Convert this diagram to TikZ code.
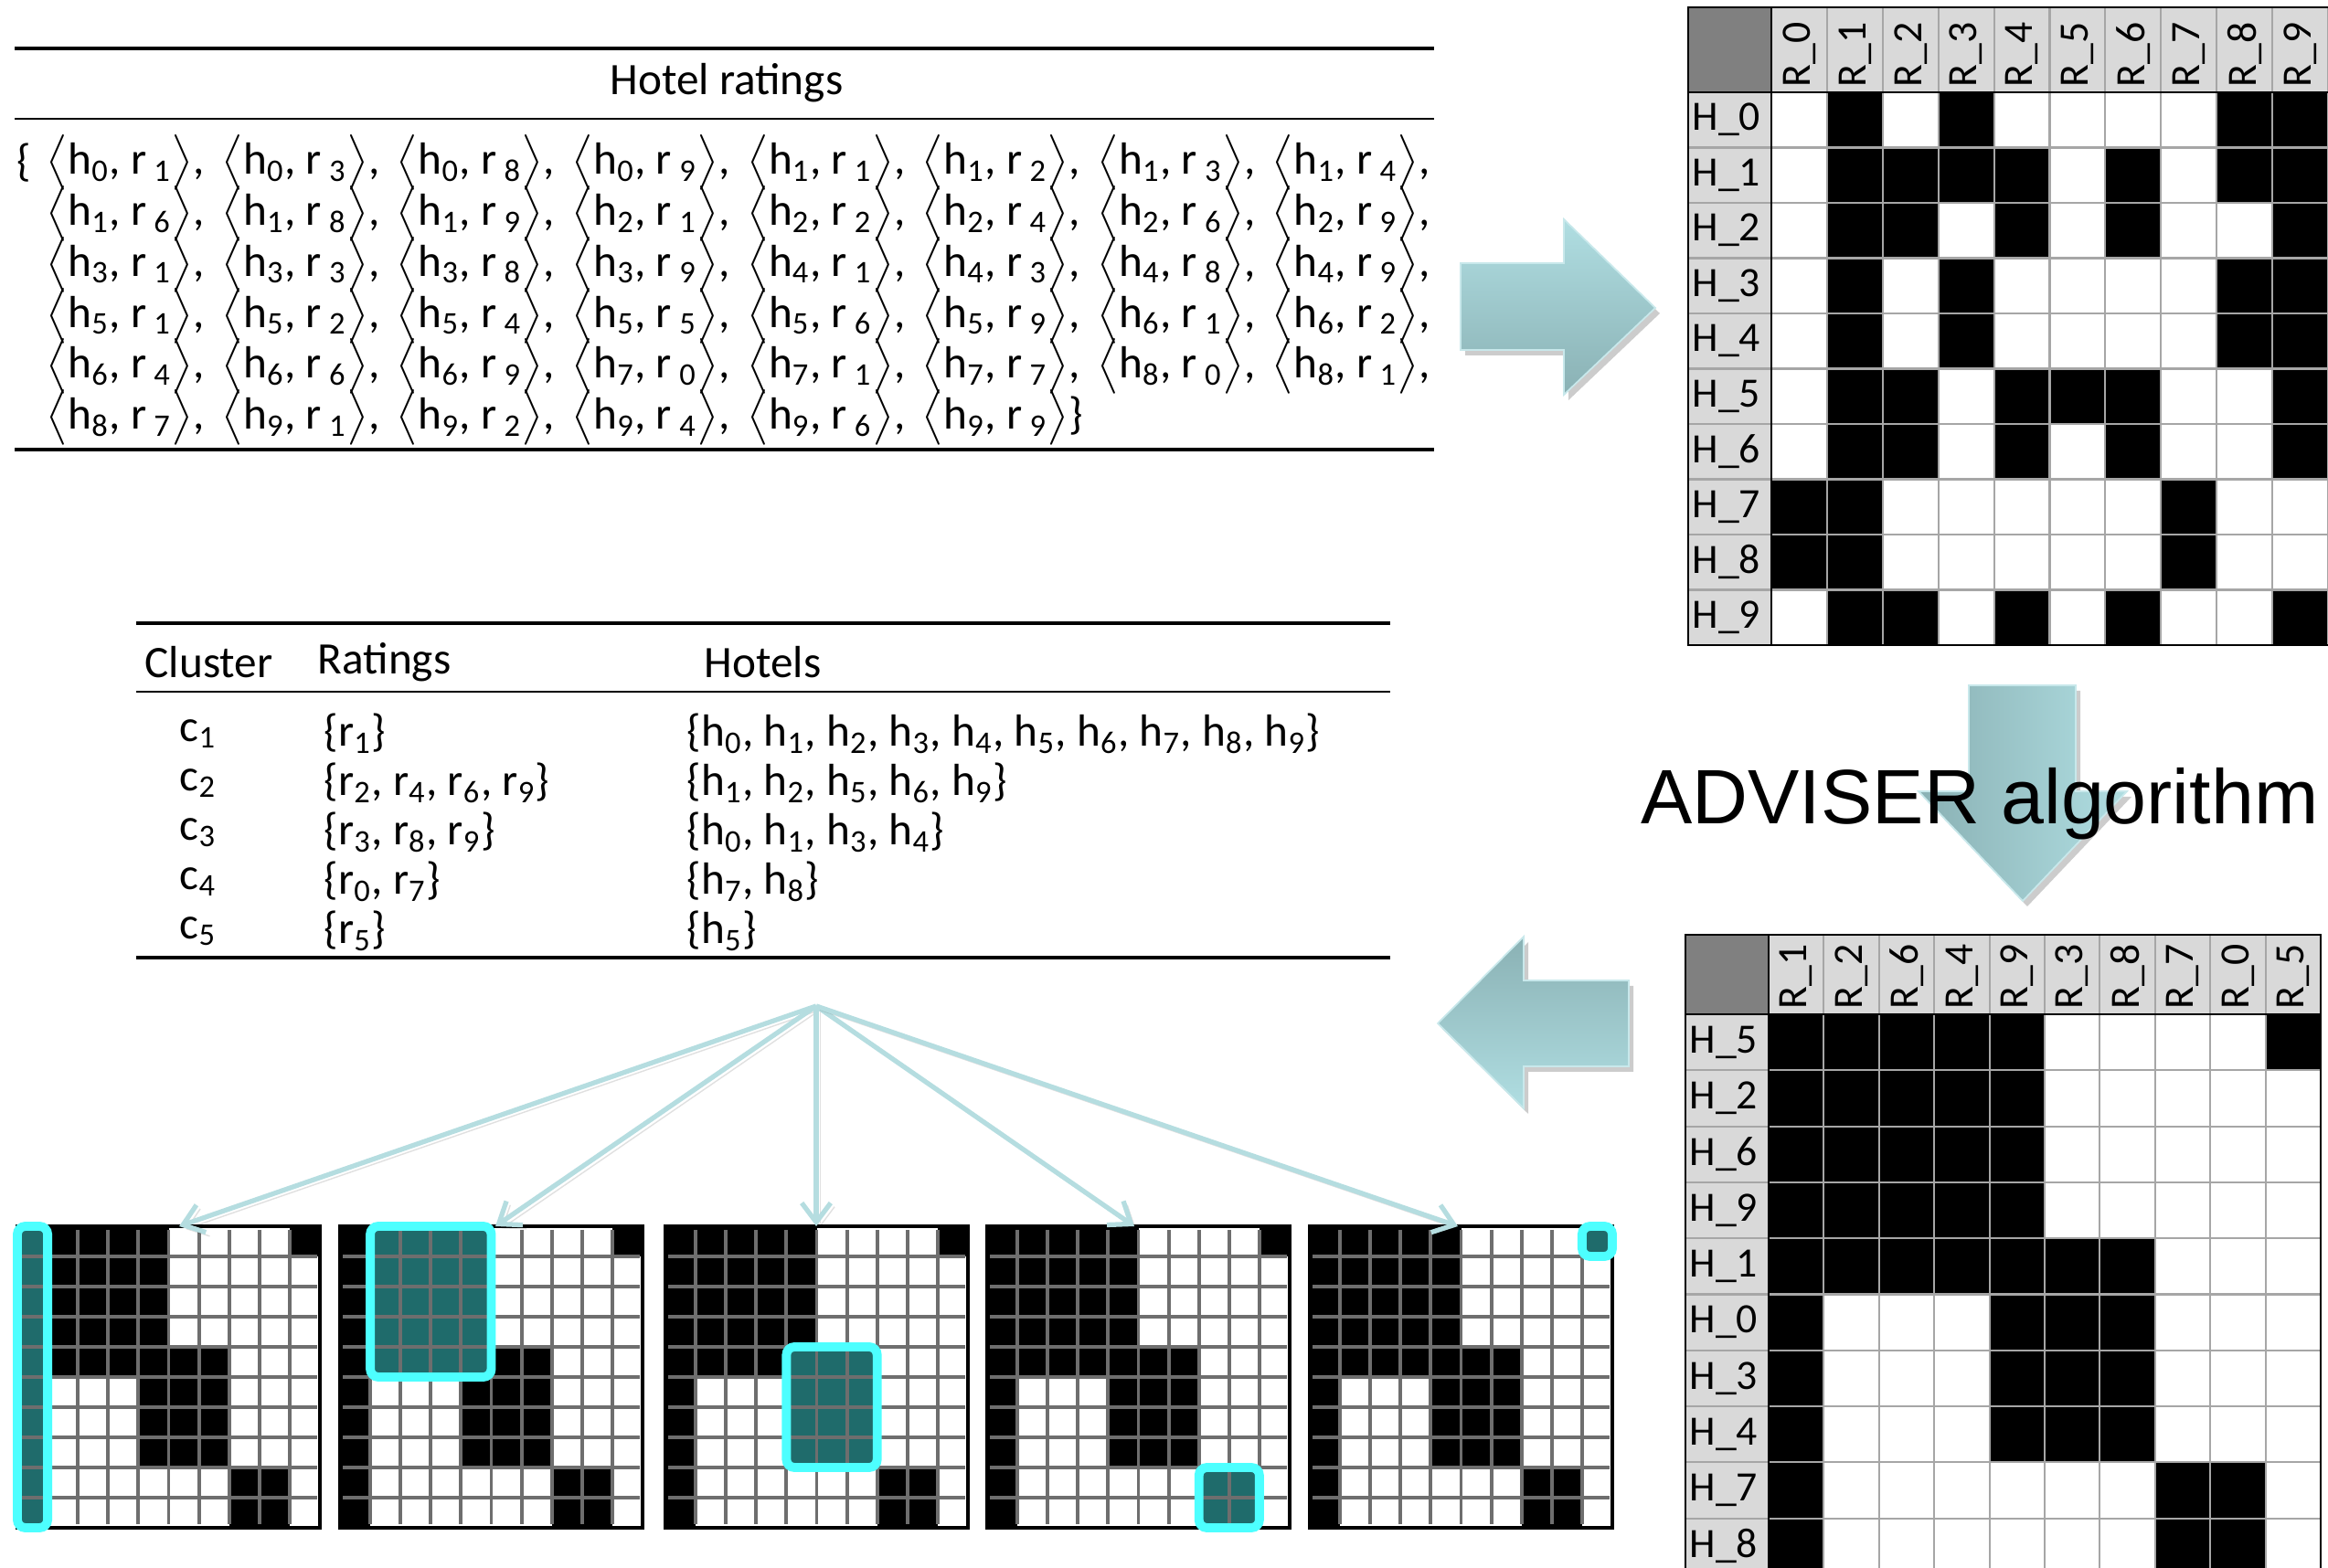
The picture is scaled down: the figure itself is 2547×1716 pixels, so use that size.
\documentclass[tikz,border=0pt]{standalone}
\usepackage{amsmath}
\usepackage{fontspec}
\setmainfont{Carlito}
\newfontfamily\arialfont{Liberation Sans}
\usetikzlibrary{arrows.meta}

\definecolor{hdrgray}{HTML}{808080}
\definecolor{lblgray}{HTML}{D9D9D9}
\definecolor{gridgray}{HTML}{A6A6A6}
\definecolor{smallgray}{HTML}{6E6E6E}
\definecolor{clustteal}{HTML}{1F6B6B}
\definecolor{clustcyan}{HTML}{4DFFFF}
\definecolor{fanblue}{HTML}{B5DDE0}
\definecolor{arrlight}{HTML}{B0DEE2}
\definecolor{arrdark}{HTML}{8AB1B4}

\newcommand{\hrpair}[2]{$\big\langle$h\textsubscript{#1}, r\,\textsubscript{#2}$\big\rangle$}

% hotel x rating matrices (rows = hotels)
\def\origmat{{0,1,0,1,0,0,0,0,1,1},{0,1,1,1,1,0,1,0,1,1},{0,1,1,0,1,0,1,0,0,1},{0,1,0,1,0,0,0,0,1,1},{0,1,0,1,0,0,0,0,1,1},{0,1,1,0,1,1,1,0,0,1},{0,1,1,0,1,0,1,0,0,1},{1,1,0,0,0,0,0,1,0,0},{1,1,0,0,0,0,0,1,0,0},{0,1,1,0,1,0,1,0,0,1}}
\def\reordmat{{1,1,1,1,1,0,0,0,0,1},{1,1,1,1,1,0,0,0,0,0},{1,1,1,1,1,0,0,0,0,0},{1,1,1,1,1,0,0,0,0,0},{1,1,1,1,1,1,1,0,0,0},{1,0,0,0,1,1,1,0,0,0},{1,0,0,0,1,1,1,0,0,0},{1,0,0,0,1,1,1,0,0,0},{1,0,0,0,0,0,0,1,1,0},{1,0,0,0,0,0,0,1,1,0}}

\tikzset{
  tabtext/.style={font=\fontsize{14}{16}\selectfont, inner sep=0pt, anchor=west},
  lbltext/.style={font=\fontsize{13}{15}\selectfont, inner sep=0pt, anchor=west},
  thickrule/.style={line width=1.15pt},
  thinrule/.style={line width=0.75pt},
  gridline/.style={draw=gridgray, line width=0.6pt},
  smallgrid/.style={draw=smallgray, line width=1.1pt},
  clusthl/.style={draw=clustcyan, line width=2.8pt, rounded corners=2.5pt},
  fanarrow/.style={draw=fanblue, line width=1.5pt, -{Straight Barb[length=6pt,width=9pt]},
    preaction={draw=black, opacity=0.12, transform canvas={shift={(1.2pt,-1.2pt)}}}},
  blockarrow/.style={draw=arrlight!70!white, line width=0.5pt},
  blockshadow/.style={fill=black, opacity=0.2},
}

\begin{document}
\begin{tikzpicture}[x=0.01cm, y=-0.01cm]
\useasboundingbox (0,0) rectangle (2547,1716);

% Hotel ratings table
\draw[thickrule] (16,53) -- (1569,53);
\node[tabtext, anchor=center] (hrhead) at (795,91) {Hotel ratings};
\draw[thinrule] (16,130) -- (1569,130);
\node[tabtext] (hropen) at (18,178) {\{};
\foreach \rw [count=\i from 0] in {{0/1,0/3,0/8,0/9,1/1,1/2,1/3,1/4},{1/6,1/8,1/9,2/1,2/2,2/4,2/6,2/9},{3/1,3/3,3/8,3/9,4/1,4/3,4/8,4/9},{5/1,5/2,5/4,5/5,5/6,5/9,6/1,6/2},{6/4,6/6,6/9,7/0,7/1,7/7,8/0,8/1}}{
  \foreach \hn/\rn [count=\j from 0] in \rw
    \node[tabtext] (pr\i-\j) at (50+191.6*\j,178+55.8*\i) {\hrpair{\hn}{\rn},};
}
\foreach \hn/\rn [count=\j from 0] in {8/7,9/1,9/2,9/4,9/6}
  \node[tabtext] (pr5-\j) at (50+191.6*\j,457) {\hrpair{\hn}{\rn},};
\node[tabtext] (pr5-5) at (50+191.6*5,457) {\hrpair{9}{9}\}};
\draw[thickrule] (16,492) -- (1569,492);

% Cluster table
\draw[thickrule] (149,682) -- (1521,682);
\node[tabtext] (clhead) at (158,725) {Cluster};
\node[tabtext] (rthead) at (347,725) {Ratings};
\node[tabtext] (hthead) at (770,725) {Hotels};
\draw[thinrule] (149,757) -- (1521,757);
\node[tabtext] (cl1) at (196,803) {c\textsubscript{1}};
\node[tabtext] (rt1) at (354,803) {\{r\textsubscript{1}\}};
\node[tabtext] (ht1) at (751,803) {\{h\textsubscript{0}, h\textsubscript{1}, h\textsubscript{2}, h\textsubscript{3}, h\textsubscript{4}, h\textsubscript{5}, h\textsubscript{6}, h\textsubscript{7}, h\textsubscript{8}, h\textsubscript{9}\}};
\node[tabtext] (cl2) at (196,857) {c\textsubscript{2}};
\node[tabtext] (rt2) at (354,857) {\{r\textsubscript{2}, r\textsubscript{4}, r\textsubscript{6}, r\textsubscript{9}\}};
\node[tabtext] (ht2) at (751,857) {\{h\textsubscript{1}, h\textsubscript{2}, h\textsubscript{5}, h\textsubscript{6}, h\textsubscript{9}\}};
\node[tabtext] (cl3) at (196,911) {c\textsubscript{3}};
\node[tabtext] (rt3) at (354,911) {\{r\textsubscript{3}, r\textsubscript{8}, r\textsubscript{9}\}};
\node[tabtext] (ht3) at (751,911) {\{h\textsubscript{0}, h\textsubscript{1}, h\textsubscript{3}, h\textsubscript{4}\}};
\node[tabtext] (cl4) at (196,965) {c\textsubscript{4}};
\node[tabtext] (rt4) at (354,965) {\{r\textsubscript{0}, r\textsubscript{7}\}};
\node[tabtext] (ht4) at (751,965) {\{h\textsubscript{7}, h\textsubscript{8}\}};
\node[tabtext] (cl5) at (196,1019) {c\textsubscript{5}};
\node[tabtext] (rt5) at (354,1019) {\{r\textsubscript{5}\}};
\node[tabtext] (ht5) at (751,1019) {\{h\textsubscript{5}\}};
\draw[thickrule] (149,1048) -- (1521,1048);

% Block arrows
\fill[blockshadow, shift={(5,6)}] (1598,288) -- (1711,288) -- (1711,240) -- (1811,337) -- (1711,432) -- (1711,383) -- (1598,383) -- cycle;
\shade[blockarrow, top color=arrlight, bottom color=arrdark] (1598,288) -- (1711,288) -- (1711,240) -- (1811,337) -- (1711,432) -- (1711,383) -- (1598,383) -- cycle;
\fill[blockshadow, shift={(5,6)}] (2154,750) -- (2271,750) -- (2271,866) -- (2327,866) -- (2213,986) -- (2099,866) -- (2154,866) -- cycle;
\shade[blockarrow, left color=arrdark, right color=arrlight] (2154,750) -- (2271,750) -- (2271,866) -- (2327,866) -- (2213,986) -- (2099,866) -- (2154,866) -- cycle;
\fill[blockshadow, shift={(5,6)}] (1782,1073) -- (1667,1073) -- (1667,1025) -- (1573,1120) -- (1667,1213) -- (1667,1167) -- (1782,1167) -- cycle;
\shade[blockarrow, top color=arrdark, bottom color=arrlight] (1782,1073) -- (1667,1073) -- (1667,1025) -- (1573,1120) -- (1667,1213) -- (1667,1167) -- (1782,1167) -- cycle;
\node[font=\arialfont\fontsize{24}{28}\selectfont, inner sep=0pt, anchor=base] (advtext) at (2166,902) {ADVISER algorithm};

% Original matrix
\fill[hdrgray] (1847,8) rectangle (1938,101);
\fill[lblgray] (1938,8) rectangle (2560,101);
\fill[lblgray] (1847,101) rectangle (1938,706);
\foreach \rw [count=\i from 0] in \origmat {
  \foreach \cv [count=\j from 0] in \rw {
    \ifnum\cv=1 \fill (1938+60.9*\j,101+60.5*\i) rectangle ++(60.9,60.5); \fi
  }
}
\foreach \j in {1,...,10} \draw[gridline] (1938+60.9*\j,8) -- (1938+60.9*\j,706);
\foreach \i in {1,...,9} \draw[gridline] (1847,101+60.5*\i) -- (2560,101+60.5*\i);
\draw[line width=0.8pt] (1847,8) rectangle (2560,706);
\draw[line width=0.8pt] (1938,8) -- (1938,706) (1847,101) -- (2560,101);
\foreach \cn [count=\j from 0] in {0,...,9}
  \node[lbltext, rotate=90] (oc\cn) at (1938+60.9*\j+30.45,96) {R\_\cn};
\foreach \hn [count=\i from 0] in {0,...,9}
  \node[lbltext] (or\hn) at (1851,131+60.5*\i) {H\_\hn};

% Reordered matrix
\fill[hdrgray] (1844,1023) rectangle (1935,1110);
\fill[lblgray] (1935,1023) rectangle (2539,1110);
\fill[lblgray] (1844,1110) rectangle (1935,1730);
\foreach \rw [count=\i from 0] in \reordmat {
  \foreach \cv [count=\j from 0] in \rw {
    \ifnum\cv=1 \fill (1935+60.4*\j,1110+61.3*\i) rectangle ++(60.4,61.3); \fi
  }
}
\foreach \j in {1,...,9} \draw[gridline] (1935+60.4*\j,1023) -- (1935+60.4*\j,1730);
\foreach \i in {1,...,9} \draw[gridline] (1844,1110+61.3*\i) -- (2539,1110+61.3*\i);
\draw[line width=0.8pt] (1844,1730) -- (1844,1023) -- (2539,1023) -- (2539,1730);
\draw[line width=0.8pt] (1935,1023) -- (1935,1730) (1844,1110) -- (2539,1110);
\foreach \cn [count=\j from 0] in {1,2,6,4,9,3,8,7,0,5}
  \node[lbltext, rotate=90] (rc\cn) at (1935+60.4*\j+30.2,1105) {R\_\cn};
\foreach \hn [count=\i from 0] in {5,2,6,9,1,0,3,4,7,8}
  \node[lbltext] (rr\hn) at (1848,1140.6+61.3*\i) {H\_\hn};

% Clusters on the reordered matrix
\foreach \ox/\hx/\hy/\hw/\hgt in {19/0/0/1/10, 372/1/0/4/5, 728/4/4/3/4, 1080/7/8/2/2, 1433/9/0/1/1}{
  \fill[black] (\ox,1342) rectangle ++(331,330);
  \foreach \rw [count=\i from 0] in \reordmat {
    \foreach \cv [count=\j from 0] in \rw {
      \ifnum\cv=0 \fill[white] (\ox+33.1*\j,1342+33*\i) rectangle ++(33.1,33); \fi
    }
  }
  \fill[clustteal] (\ox+33.1*\hx,1342+33*\hy) rectangle ++(33.1*\hw,33*\hgt);
  \foreach \j in {1,...,9} \draw[smallgrid] (\ox+33.1*\j,1346) -- ++(0,322);
  \foreach \i in {1,...,9} \draw[smallgrid] (\ox+3,1342+33*\i) -- ++(325,0);
  \draw[line width=1.3pt] (\ox,1342) rectangle ++(331,330);
  \draw[clusthl] (\ox+33.1*\hx,1342+33*\hy) rectangle ++(33.1*\hw,33*\hgt);
}

% Fan of arrows from the cluster table
\coordinate (fan) at (893,1101);
\foreach \tx [count=\k] in {196,542,893,1241,1595}
  \coordinate (sm\k) at (\tx,1342);
\foreach \k in {1,...,5}
  \draw[fanarrow] (fan) -- (sm\k);
\end{tikzpicture}
\end{document}
